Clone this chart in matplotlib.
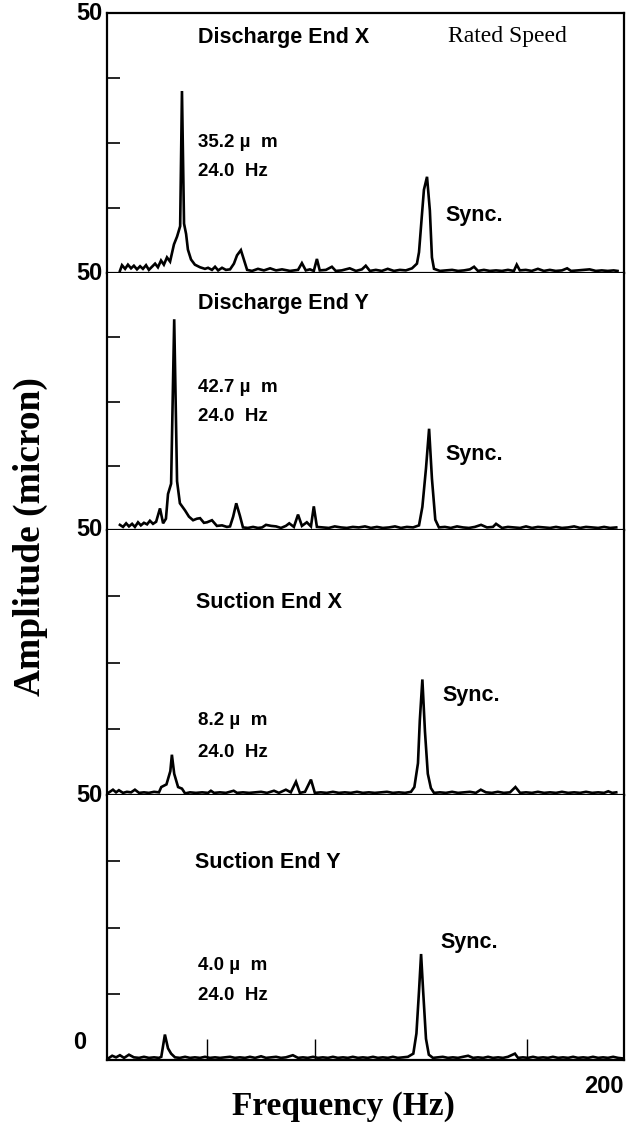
import matplotlib
matplotlib.use('Agg')
import matplotlib.pyplot as plt

# panel names and annotation texts
titles = ['Discharge End X', 'Discharge End Y', 'Suction End X', 'Suction End Y']
amp_labels = ['35.2 µ  m', '42.7 µ  m', '8.2 µ  m', '4.0 µ  m']
freq_labels = ['24.0  Hz', '24.0  Hz', '24.0  Hz', '24.0  Hz']

# spectra (Hz, micron)
dex_f = [5.0, 5.8, 7.0, 8.1, 9.3, 10.4, 11.6, 12.8, 13.9, 15.1, 16.2, 17.4, 18.6, 19.7,
         20.9, 22.0, 23.2, 24.4, 25.9, 27.1, 28.3, 29.0, 29.8, 30.6, 31.3, 32.5, 34.0,
         36.0, 37.9, 39.1, 40.6, 41.8, 43.0, 44.5, 46.0, 47.6, 49.1, 50.3, 51.8, 53.0,
         54.2, 56.1, 58.4, 60.7, 63.1, 65.4, 67.7, 70.8, 73.9, 75.4, 76.9, 78.5, 80.0,
         81.2, 82.3, 84.7, 87.0, 88.5, 90.8, 93.9, 96.3, 98.6, 100.1, 101.7, 104.0,
         106.3, 108.6, 111.0, 113.3, 115.6, 118.0, 119.9, 120.7, 121.8, 122.6, 123.8,
         124.9, 125.7, 126.5, 128.8, 131.1, 133.5, 135.8, 138.1, 140.4, 142.0, 143.5,
         145.8, 148.1, 150.5, 152.8, 155.1, 157.4, 158.5, 159.7, 162.0, 164.3, 166.7,
         169.0, 171.3, 173.6, 176.0, 178.0, 179.5, 182.1, 184.4, 186.7, 189.1, 191.4,
         193.7, 196.0, 197.5]
dex_a = [0.4, 1.5, 0.8, 1.6, 0.9, 1.4, 0.7, 1.3, 0.8, 1.5, 0.6, 1.2, 1.8, 1.1,
         2.4, 1.6, 3.0, 2.2, 5.5, 7.0, 9.0, 35.0, 9.5, 7.5, 4.5, 2.6, 1.6,
         1.1, 0.8, 1.0, 0.6, 1.2, 0.5, 1.0, 0.6, 0.7, 1.8, 3.4, 4.4, 2.5,
         0.6, 0.4, 0.8, 0.5, 0.9, 0.5, 0.7, 0.4, 0.6, 1.9, 0.5, 0.7, 0.4,
         2.7, 0.5, 0.6, 1.2, 0.4, 0.5, 0.9, 0.4, 0.7, 1.4, 0.4, 0.6,
         0.4, 0.8, 0.4, 0.6, 0.5, 0.9, 1.8, 4.0, 11.0, 16.0, 18.5,
         12.0, 3.0, 0.8, 0.4, 0.5, 0.6, 0.4, 0.5, 0.7, 1.2, 0.4,
         0.6, 0.4, 0.5, 0.4, 0.6, 0.4, 1.6, 0.5, 0.6, 0.4, 0.8,
         0.4, 0.6, 0.4, 0.5, 0.9, 0.4, 0.5, 0.6, 0.7, 0.4, 0.5,
         0.4, 0.5, 0.4]

dey_f = [5.0, 6.2, 7.4, 8.5, 9.7, 10.8, 12.0, 13.1, 14.3, 15.5, 16.6, 17.8, 19.0,
         20.5, 21.7, 22.8, 23.6, 24.8, 26.0, 27.1, 28.2, 30.2, 31.7, 33.3, 34.8,
         36.0, 37.5, 38.7, 40.6, 42.5, 44.5, 46.4, 47.6, 48.8, 50.0, 51.4, 52.6,
         54.5, 56.5, 58.4, 60.0, 61.5, 63.5, 65.4, 67.3, 69.2, 70.5, 72.3, 73.9,
         75.4, 77.3, 78.9, 80.0, 81.2, 83.5, 85.8, 88.1, 90.5, 92.8, 95.1, 97.4,
         99.8, 102.1, 104.4, 106.7, 109.1, 111.4, 113.7, 116.0, 118.4, 120.7, 122.0,
         123.4, 124.6, 125.7, 127.0, 128.4, 130.7, 133.0, 135.4, 137.7, 140.0, 142.3,
         144.7, 147.0, 149.3, 150.5, 152.8, 155.1, 157.4, 159.8, 162.1, 164.4, 166.7,
         169.1, 171.4, 173.7, 176.0, 178.4, 180.7, 183.0, 185.3, 187.7, 190.0, 192.3,
         194.6, 197.0]
dey_a = [1.0, 0.6, 1.3, 0.7, 1.2, 0.6, 1.5, 0.9, 1.4, 1.1, 1.8, 1.2, 1.6,
         4.2, 1.3, 2.2, 7.0, 9.0, 41.0, 9.5, 5.2, 3.8, 2.6, 1.9, 2.2,
         2.3, 1.4, 1.5, 1.9, 0.8, 0.9, 0.6, 0.7, 2.6, 5.2, 2.8, 0.5,
         0.4, 0.6, 0.4, 0.5, 1.0, 0.8, 0.7, 0.4, 0.8, 1.3, 0.6, 3.0,
         0.8, 1.5, 0.7, 4.6, 0.6, 0.5, 0.4, 0.7, 0.5, 0.4, 0.6, 0.5,
         0.7, 0.4, 0.6, 0.4, 0.5, 0.7, 0.4, 0.6, 0.5, 0.9, 4.5,
         12.0, 19.7, 10.0, 2.0, 0.5, 0.6, 0.4, 0.7, 0.5, 0.4, 0.6,
         1.0, 0.5, 0.6, 1.2, 0.4, 0.6, 0.5, 0.4, 0.7, 0.4, 0.6,
         0.5, 0.4, 0.6, 0.4, 0.5, 0.7, 0.4, 0.6, 0.5, 0.4, 0.6,
         0.4, 0.5]

sex_f = [0.5, 2.3, 3.5, 4.6, 6.2, 7.7, 9.3, 10.8, 12.4, 14.3, 16.2, 18.2, 20.1,
         21.0, 23.0, 24.5, 25.1, 26.0, 27.5, 29.0, 30.2, 32.1, 34.4, 36.8, 39.1,
         40.2, 41.4, 43.7, 46.0, 49.0, 50.3, 52.6, 55.0, 57.3, 59.6, 61.9, 64.6,
         66.5, 69.2, 71.1, 73.1, 74.6, 76.6, 78.9, 80.4, 82.7, 85.0, 87.4, 89.7,
         92.0, 94.3, 96.7, 99.0, 101.3, 103.6, 106.0, 108.3, 110.6, 112.9, 115.3,
         117.6, 118.9, 120.3, 121.0, 122.0, 123.0, 124.1, 125.3, 126.5, 128.8,
         131.1, 133.5, 135.8, 138.1, 140.4, 142.7, 144.6, 146.6, 148.9, 151.2,
         153.5, 155.9, 158.0, 159.8, 162.1, 164.4, 166.7, 169.1, 171.4, 173.7,
         176.0, 178.4, 180.7, 183.0, 185.3, 187.7, 190.0, 192.3, 193.9, 195.4,
         197.0]
sex_a = [0.4, 1.0, 0.5, 0.9, 0.4, 0.6, 0.5, 1.0, 0.4, 0.5, 0.4, 0.6, 0.5,
         1.5, 2.0, 4.5, 7.6, 4.0, 1.5, 1.2, 0.3, 0.5, 0.4, 0.5, 0.4,
         0.8, 0.4, 0.5, 0.4, 0.8, 0.4, 0.5, 0.4, 0.5, 0.6, 0.4, 0.8,
         0.4, 1.0, 0.5, 2.5, 0.4, 0.6, 2.9, 0.4, 0.5, 0.4, 0.6, 0.4,
         0.5, 0.4, 0.6, 0.4, 0.5, 0.4, 0.5, 0.6, 0.4, 0.5, 0.4,
         0.6, 1.5, 6.0, 14.0, 21.8, 12.0, 4.0, 1.3, 0.4, 0.5,
         0.4, 0.6, 0.4, 0.5, 0.6, 0.4, 1.0, 0.5, 0.4, 0.6,
         0.4, 0.5, 1.5, 0.4, 0.5, 0.4, 0.6, 0.4, 0.5, 0.4,
         0.6, 0.4, 0.5, 0.4, 0.6, 0.4, 0.5, 0.4, 0.7, 0.4,
         0.5]

sey_f = [0.5, 2.0, 3.5, 5.0, 6.6, 8.5, 10.4, 12.4, 14.3, 16.2, 18.2, 20.1, 21.0,
         22.4, 23.6, 24.8, 26.3, 28.2, 30.2, 32.1, 34.0, 36.0, 37.9, 39.8, 41.8,
         43.7, 45.6, 47.6, 49.5, 51.4, 53.4, 55.3, 57.3, 59.6, 61.5, 63.5, 65.4,
         67.3, 69.2, 71.9, 73.9, 75.8, 77.7, 79.7, 81.6, 83.5, 85.5, 87.4, 89.3,
         91.3, 93.2, 95.1, 97.1, 99.0, 100.9, 102.9, 104.8, 106.7, 108.7, 110.6,
         112.5, 114.5, 116.4, 118.5, 119.7, 120.7, 121.5, 122.3, 123.4, 124.5,
         126.1, 128.0, 129.9, 131.9, 133.8, 135.8, 137.7, 139.7, 141.6, 143.5,
         145.5, 147.4, 149.3, 151.3, 153.2, 155.1, 157.8, 159.0, 160.9, 162.9,
         164.8, 166.7, 168.7, 170.6, 172.5, 174.5, 176.4, 178.4, 180.3, 182.2,
         184.2, 186.1, 188.0, 190.0, 191.9, 193.8, 195.8, 197.7, 199.5]
sey_a = [0.3, 0.8, 0.5, 0.9, 0.4, 1.0, 0.5, 0.4, 0.6, 0.4, 0.5, 0.4, 0.6,
         4.8, 2.2, 1.2, 0.5, 0.4, 0.6, 0.4, 0.5, 0.4, 0.6, 0.4, 0.5,
         0.4, 0.5, 0.6, 0.4, 0.5, 0.4, 0.6, 0.4, 0.7, 0.4, 0.5, 0.6,
         0.4, 0.5, 0.9, 0.4, 0.5, 0.4, 0.6, 0.4, 0.5, 0.4, 0.6, 0.4,
         0.5, 0.4, 0.6, 0.4, 0.5, 0.4, 0.6, 0.4, 0.5, 0.4, 0.6,
         0.4, 0.5, 0.6, 1.2, 5.0, 13.0, 20.0, 13.0, 4.0, 1.0,
         0.4, 0.5, 0.6, 0.4, 0.5, 0.4, 0.6, 0.8, 0.4, 0.5,
         0.4, 0.6, 0.4, 0.5, 0.4, 0.6, 1.2, 0.4, 0.5, 0.4,
         0.6, 0.4, 0.5, 0.4, 0.6, 0.4, 0.5, 0.4, 0.6, 0.4,
         0.5, 0.4, 0.6, 0.4, 0.5, 0.4, 0.6, 0.4, 0.3]

# cursor marks in the last panel
mark_f = [38.7, 80.5, 162.5]
mark_a = [4.0, 4.0, 4.0]

spectra = [(dex_f, dex_a), (dey_f, dey_a), (sex_f, sex_a), (sey_f, sey_a)]

W, H = 629, 1127
fig = plt.figure(figsize=(W / 100, H / 100), dpi=100)

left, right = 107, 624
edges = [13, 273, 530, 795, 1060]
sans = 'Liberation Sans'
serif = 'Liberation Serif'

# text positions (axes fraction) per panel
title_xy = [(0.176, 0.904), (0.176, 0.883), (0.172, 0.728), (0.170, 0.747)]
amp_xy = [(0.176, 0.503), (0.176, 0.556), (0.176, 0.283), (0.176, 0.358)]
hz_xy = [(0.176, 0.389), (0.176, 0.440), (0.176, 0.162), (0.176, 0.245)]
sync_xy = [(0.654, 0.221), (0.654, 0.292), (0.648, 0.377), (0.644, 0.442)]

axes = []
for i in range(4):
    top, bot = edges[i], edges[i + 1]
    ax = fig.add_axes([left / W, 1 - bot / H, (right - left) / W, (bot - top) / H])
    axes.append(ax)
    f, a = spectra[i]
    ax.plot(f, a, color='black', lw=1.9, solid_joinstyle='miter')
    ax.set_xlim(0, 200)
    ax.set_ylim(0, 50)
    for s in ax.spines.values():
        s.set_linewidth(1.6)
    if i > 0:
        ax.spines['top'].set_visible(False)
    ax.set_yticks([12.5, 25, 37.5])
    ax.set_yticklabels([])
    ax.tick_params(axis='y', direction='in', length=9.5, width=1.2)
    ax.set_xticks([])
    ax.text(-0.008, 1.0, '50', transform=ax.transAxes, ha='right', va='center',
            fontsize=17, fontweight='bold', family=sans)

    ax.text(*title_xy[i], titles[i], transform=ax.transAxes, ha='left', va='center',
            fontsize=15.5, fontweight='bold', family=sans)
    ax.text(*amp_xy[i], amp_labels[i], transform=ax.transAxes, ha='left', va='center',
            fontsize=13.5, fontweight='bold', family=sans)
    ax.text(*hz_xy[i], freq_labels[i], transform=ax.transAxes, ha='left', va='center',
            fontsize=13.5, fontweight='bold', family=sans)
    ax.text(*sync_xy[i], 'Sync.', transform=ax.transAxes, ha='left', va='center',
            fontsize=15.5, fontweight='bold', family=sans)

axes[0].text(0.660, 0.908, 'Rated Speed', transform=axes[0].transAxes, ha='left',
             va='center', fontsize=17, family=serif)

last = axes[-1]
last.vlines(mark_f, 0, mark_a, color='black', lw=1.0)
last.text(-0.04, 0.065, '0', transform=last.transAxes, ha='right', va='center',
          fontsize=17, fontweight='bold', family=sans)
last.text(1.0, -0.1, '200', transform=last.transAxes, ha='right', va='center',
          fontsize=17, fontweight='bold', family=sans)

fig.text(30 / W, 1 - 537 / H, 'Amplitude (micron)', rotation=90, ha='center', va='center',
         fontsize=27, fontweight='bold', family=serif)
fig.text(343 / W, 1 - 1107 / H, 'Frequency (Hz)', ha='center', va='center',
         fontsize=24, fontweight='bold', family=serif)

fig.savefig('out.png', dpi=100)
